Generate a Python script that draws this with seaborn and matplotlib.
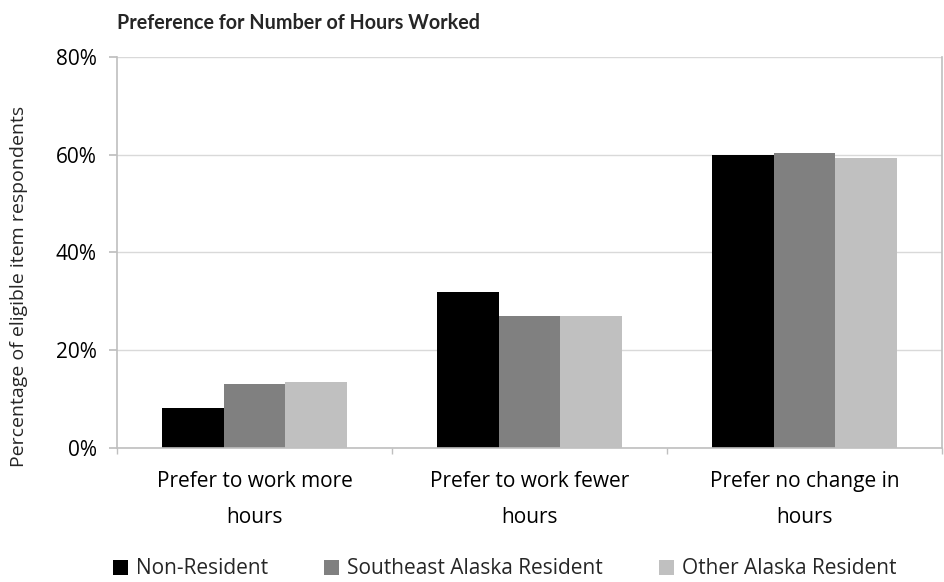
import numpy as np
import pandas as pd
import matplotlib
matplotlib.use('Agg')
import matplotlib.pyplot as plt
import seaborn as sns
from matplotlib.ticker import FixedLocator, PercentFormatter

# Values (percent)
categories = ['Prefer to work more\nhours', 'Prefer to work fewer\nhours', 'Prefer no change in\nhours']
groups = ['Non-Resident', 'Southeast Alaska Resident', 'Other Alaska Resident']
non_resident = [8.1, 31.9, 59.9]
southeast_resident = [13.0, 27.0, 60.4]
other_resident = [13.5, 27.0, 59.3]
colors = ['#000000', '#808080', '#c0c0c0']

df = pd.DataFrame({
    'category': categories * 3,
    'group': np.repeat(groups, 3),
    'value': non_resident + southeast_resident + other_resident,
})

sns.set_theme(style='white')
plt.rcParams['font.family'] = ['Open Sans', 'DejaVu Sans']

fig = plt.figure(figsize=(9.45, 5.82), dpi=100)
ax = fig.add_axes([117 / 945, 1 - 447.7 / 582, 825 / 945, 390.7 / 582])

sns.barplot(data=df, x='category', y='value', hue='group', palette=colors,
            width=0.675, saturation=1, linewidth=0, ax=ax, legend=True)

grid_c = '#d9d9d9'
axis_c = '#bfbfbf'
ax.set_ylim(0, 80)
ax.set_xlim(-0.5, 2.5)
ax.set_yticks([0, 20, 40, 60, 80])
ax.yaxis.set_major_formatter(PercentFormatter(decimals=0))
ax.yaxis.grid(True, color=grid_c, linewidth=1)
ax.set_axisbelow(True)
for s in ['left', 'bottom', 'right']:
    ax.spines[s].set_color(axis_c)
    ax.spines[s].set_linewidth(1.2)
ax.spines['top'].set_visible(False)

ax.tick_params(axis='y', which='major', length=6, color=axis_c, direction='out',
               labelsize=15, labelcolor='#000000', pad=8.5, left=True)
ax.tick_params(axis='x', which='major', length=0, labelsize=15,
               labelcolor='#000000', pad=17)
ax.xaxis.set_minor_locator(FixedLocator([-0.5, 0.5, 1.5, 2.5]))
ax.tick_params(axis='x', which='minor', length=4.5, color=axis_c, bottom=True,
               direction='out')
for lbl in ax.get_xticklabels():
    lbl.set_linespacing(1.9)

ax.set_xlabel('')
ax.set_ylabel('Percentage of eligible item respondents', fontsize=14)
ax.yaxis.set_label_coords(-0.108, 0.414)

fig.text(117 / 945, 1 - 23 / 582, 'Preference for Number of Hours Worked',
         fontsize=14.2, fontweight='bold', ha='left', va='center',
         family=['Lato', 'DejaVu Sans'])

handles, labels = ax.get_legend_handles_labels()
ax.legend_.remove()
fig.legend(handles, labels, loc='center', bbox_to_anchor=(505 / 945, 1 - 569 / 582),
           ncol=3, frameon=False, fontsize=15, handlelength=0.7, handleheight=0.7,
           handletextpad=0.4, columnspacing=2.7, borderaxespad=0, borderpad=0)

fig.savefig('out.png', dpi=100)
